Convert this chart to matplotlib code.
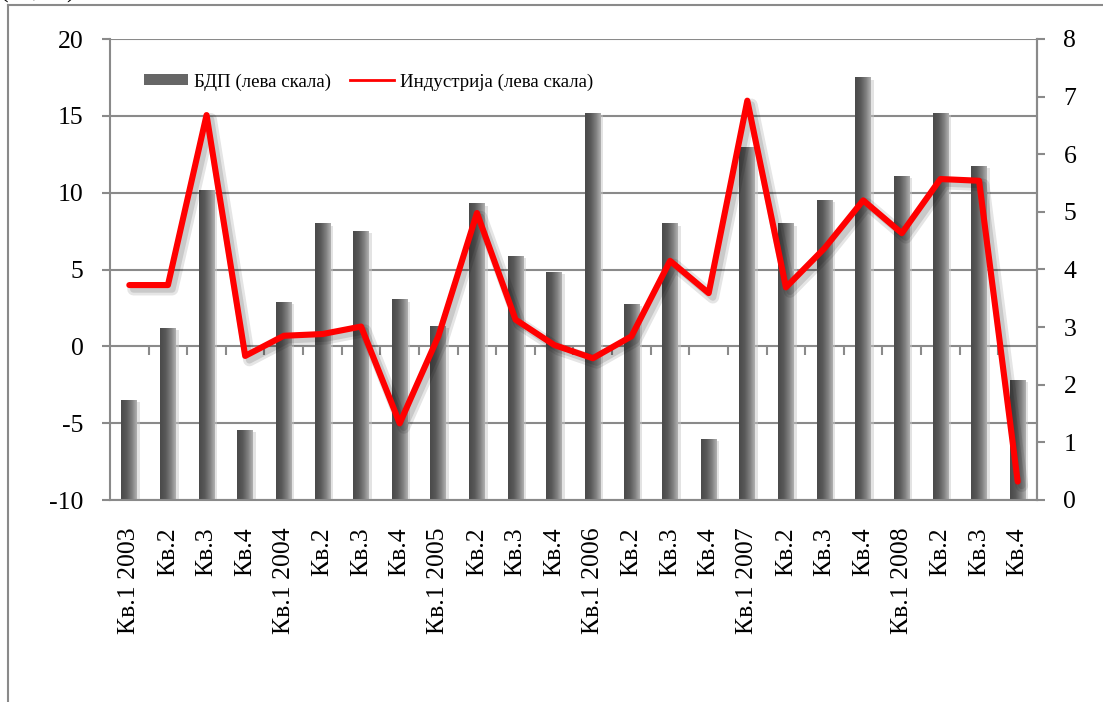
import numpy as np
import matplotlib
matplotlib.use("Agg")
import matplotlib.pyplot as plt
from matplotlib.colors import LinearSegmentedColormap
from matplotlib.lines import Line2D
from matplotlib.patches import Patch
import matplotlib.patheffects as pe

plt.rcParams['font.family'] = ['Liberation Serif', 'DejaVu Serif']

# ---------------- data ----------------
categories = ["Кв.1 2003", "Кв.2", "Кв.3", "Кв.4",
              "Кв.1 2004", "Кв.2", "Кв.3", "Кв.4",
              "Кв.1 2005", "Кв.2", "Кв.3", "Кв.4",
              "Кв.1 2006", "Кв.2", "Кв.3", "Кв.4",
              "Кв.1 2007", "Кв.2", "Кв.3", "Кв.4",
              "Кв.1 2008", "Кв.2", "Кв.3", "Кв.4"]
gdp = [-3.5, 1.2, 10.2, -5.45, 2.9, 8.0, 7.5, 3.05,
       1.35, 9.3, 5.9, 4.85, 15.2, 2.75, 8.0, -6.0,
       12.95, 8.0, 9.55, 17.5, 11.1, 15.2, 11.75, -2.2]
industry = [3.73, 3.73, 6.68, 2.5, 2.85, 2.88, 3.01, 1.33,
            2.84, 4.98, 3.13, 2.69, 2.46, 2.84, 4.15, 3.59,
            6.93, 3.69, 4.37, 5.2, 4.63, 5.57, 5.54, 0.32]
left_ticks = [-10, -5, 0, 5, 10, 15, 20]
right_ticks = [0, 1, 2, 3, 4, 5, 6, 7, 8]
legend_labels = ["БДП (лева скала)", "Индустрија (лева скала)"]

# ---------------- figure ----------------
W, H = 1103, 702
fig = plt.figure(figsize=(W / 100, H / 100), dpi=100)
ax = fig.add_axes([110 / W, 1 - 500 / H, (1037 - 110) / W, (500 - 39) / H])

grid_c = '#8a8a8a'
x = np.arange(len(categories))
base = left_ticks[0]

ax.set_axisbelow(True)
ax.yaxis.grid(True, color=grid_c, lw=1.5, zorder=0)
bars = ax.bar(x, np.array(gdp) - base, bottom=base, width=0.41,
              color='#6a6a6a', zorder=2, linewidth=0)

cmap = LinearSegmentedColormap.from_list(
    'cyl', [(0, '#4a4a4a'), (0.35, '#585858'), (0.7, '#808080'), (1.0, '#b0b0b0')])
grad = np.linspace(0, 1, 64).reshape(1, -1)
for b in bars:
    bx, by = b.get_x(), b.get_y()
    bw, bh = b.get_width(), b.get_height()
    # soft shadow
    ax.add_patch(plt.Rectangle((bx + 0.07, by), bw, bh - 0.15, color='#c8c8c8',
                               alpha=0.5, zorder=1.5, lw=0))
    im = ax.imshow(grad, extent=[bx, bx + bw, by, by + bh], aspect='auto',
                   cmap=cmap, zorder=2.1, interpolation='bilinear')
    im.set_clip_path(b)

# ticks on zero line at category boundaries
ax.vlines(x[:-1] + 0.5, -0.55, 0, colors=grid_c, lw=1.5, zorder=1)

ax.set_xlim(-0.5, len(categories) - 0.5)
ax.set_ylim(left_ticks[0], left_ticks[-1])
ax.set_yticks(left_ticks)
ax.set_yticklabels([str(t) for t in left_ticks])
ax.set_xticks(x)
ax.set_xticklabels(categories, rotation=90, fontsize=18.5)
ax.tick_params(axis='x', length=0, pad=20)
ax.tick_params(axis='y', length=6, width=1.5, color=grid_c, labelsize=18.5, pad=13)
for s in ['top']:
    ax.spines[s].set_visible(False)
for s in ['left', 'bottom', 'right']:
    ax.spines[s].set_color(grid_c)
    ax.spines[s].set_linewidth(1.5)

ax2 = ax.twinx()
ax2.set_ylim(right_ticks[0], right_ticks[-1])
ax2.set_yticks(right_ticks)
ax2.set_yticklabels([str(t) for t in right_ticks])
ax2.tick_params(axis='y', length=6, width=1.5, color=grid_c, labelsize=18.5, pad=13)
for s in ['top', 'left', 'bottom']:
    ax2.spines[s].set_visible(False)
ax2.spines['right'].set_color(grid_c)
ax2.spines['right'].set_linewidth(1.5)

ax2.plot(x, industry, color='#ff0000', lw=4.4, solid_joinstyle='round',
         solid_capstyle='round', zorder=5,
         path_effects=[pe.SimpleLineShadow(offset=(3, -3), shadow_color='#000000',
                                           alpha=0.10, linewidth=9),
                       pe.SimpleLineShadow(offset=(3, -3), shadow_color='#000000',
                                           alpha=0.12, linewidth=5),
                       pe.Normal()])

handles = [Patch(facecolor='#666666', edgecolor='none'),
           Line2D([], [], color='#ff0000', lw=2)]
ax2.legend(handles, legend_labels, ncol=2, frameon=False, fontsize=13.6,
           loc='center left', bbox_to_anchor=(0.037, 0.907), borderaxespad=0,
           borderpad=0, handlelength=2.3, handleheight=0.5, handletextpad=0.35,
           columnspacing=1.0)

# outer chart frame
fig.add_artist(Line2D([8 / W, 8 / W], [1 - 5 / H, 0], color=grid_c, lw=1.5))
fig.add_artist(Line2D([8 / W, 1], [1 - 5 / H, 1 - 5 / H], color=grid_c, lw=1.5))
fig.text(0.0, 1 + 2.7 / H, "(мг, %)", fontsize=18.5, va='baseline', ha='left')

fig.savefig('out.png', dpi=100)
